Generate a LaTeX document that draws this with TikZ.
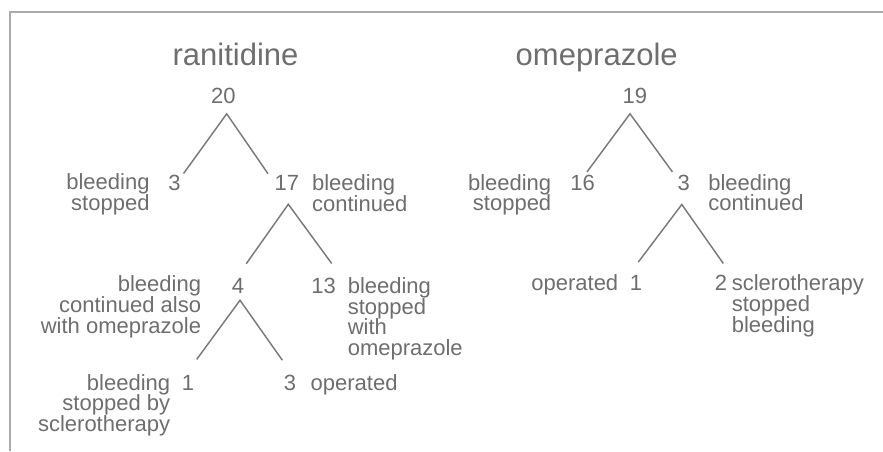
\documentclass[tikz,border=0pt]{standalone}
\usepackage{fontspec}
\setmainfont{Liberation Sans}
\definecolor{txt}{HTML}{6E6E6E}
\definecolor{ln}{HTML}{7A7A7A}
\definecolor{frm}{HTML}{ABABAB}
\newcommand{\rlines}[1]{\vtop{\baselineskip=15.6pt\lineskiplimit=-100pt\lineskip=0pt\halign{\hfil##\cr#1\crcr}}}
\newcommand{\llines}[1]{\vtop{\baselineskip=15.6pt\lineskiplimit=-100pt\lineskip=0pt\halign{##\hfil\cr#1\crcr}}}
\begin{document}
\begin{tikzpicture}[x=0.75pt,y=-0.75pt,
  num/.style={inner sep=0pt, anchor=base, text=txt, font=\fontsize{16.5}{15.6}\selectfont},
  lbl/.style={inner sep=0pt, text=txt, font=\fontsize{16.5}{15.6}\selectfont},
  lr/.style={lbl, anchor=base east},
  ll/.style={lbl, anchor=base west},
  ttl/.style={inner sep=0pt, anchor=base, text=txt, font=\fontsize{23.25}{28}\selectfont},
  edge/.style={draw=ln, line width=1.1pt},
  frame/.style={draw=frm, line width=1.2pt}]
\useasboundingbox (0,0) rectangle (883,451);
% frame
\coordinate (fb) at (10,451);
\coordinate (fc) at (10,11.7);
\coordinate (fr) at (883,11.7);
\draw[frame] (fb) -- (fc) -- (fr);
% titles
\node[ttl] (t1) at (235.5,65) {ranitidine};
\node[ttl] (t2) at (596.7,65) {omeprazole};
% ranitidine tree
\node[num] (n20) at (223.3,103.3) {20};
\node[num] (n3a) at (174.5,190.7) {3};
\node[num] (n17) at (286.8,190.7) {17};
\node[num] (n4) at (238,293.3) {4};
\node[num] (n13) at (323.7,293.3) {13};
\node[num] (n1a) at (188,390) {1};
\node[num] (n3b) at (290,390) {3};
\node[lr] (l3a) at (149.8,189.3) {\rlines{bleeding\cr stopped}};
\node[ll] (l17) at (311.8,190.7) {\llines{bleeding\cr continued}};
\node[lr] (l4) at (201.3,291.7) {\rlines{bleeding\cr continued also\cr with omeprazole}};
\node[ll] (l13) at (347.5,293.3) {\llines{bleeding\cr stopped\cr with\cr omeprazole}};
\node[lr] (l1a) at (170.4,390) {\rlines{bleeding\cr stopped by\cr sclerotherapy}};
\node[ll] (l3b) at (310.4,390) {operated};
\draw[edge] ([shift={(2.7,-1.6)}]n3a.north east) -- ([shift={(3.4,10)}]n20.south) -- ([shift={(-6.3,-1.6)}]n17.north west);
\draw[edge] ([shift={(1.9,-14.2)}]n4.north east) -- ([shift={(1.5,13.3)}]n17.south) -- ([shift={(8,-14.2)}]n13.north);
\draw[edge] ([shift={(8.7,-15.2)}]n1a.north) -- ([shift={(2,6.7)}]n4.south) -- ([shift={(-7.7,-14.2)}]n3b.north);
% omeprazole tree
\node[num] (n19) at (634.8,103.3) {19};
\node[num] (n16) at (582.5,190) {16};
\node[num] (n3c) at (683.8,190) {3};
\node[num] (n1b) at (636,290.7) {1};
\node[num] (n2) at (721,290.7) {2};
\node[lr] (l16) at (551.5,190) {\rlines{bleeding\cr stopped}};
\node[ll] (l3c) at (708,190) {\llines{bleeding\cr continued}};
\node[lr] (l1b) at (618.5,290.7) {operated};
\node[ll] (l2) at (731.5,290.7) {\llines{sclerotherapy\cr stopped\cr bleeding}};
\draw[edge] ([shift={(-8,-2.5)}]n16.north east) -- ([shift={(-4.8,10)}]n19.south) -- ([shift={(-5,-2.5)}]n3c.north west);
\draw[edge] ([shift={(2.3,-13.2)}]n1b.north) -- ([shift={(-2,14)}]n3c.south) -- ([shift={(2.3,-11.6)}]n2.north);
\end{tikzpicture}
\end{document}
